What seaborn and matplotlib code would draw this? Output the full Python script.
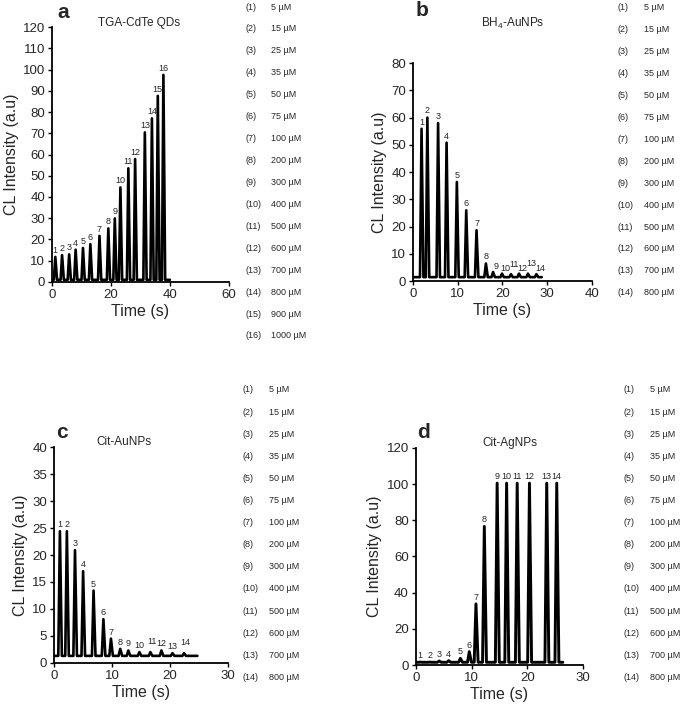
"""Four-panel CL intensity traces (TGA-CdTe QDs, BH4-AuNPs, Cit-AuNPs, Cit-AgNPs)."""

import matplotlib

matplotlib.use("Agg")
import matplotlib.pyplot as plt
import numpy as np
import pandas as pd
import seaborn as sns


# ─── Data ─────────────────────────────────────────────────────────────────

conc_a = ["5", "15", "25", "35", "50", "75", "100", "200", "300", "400",
          "500", "600", "700", "800", "900", "1000"]
conc_bcd = conc_a[:14]

times_a = [1.1, 3.4, 5.8, 8.0, 10.5, 13.0, 16.1, 19.1, 21.3, 23.2,
           25.9, 28.2, 31.5, 33.9, 35.9, 37.8]
heights_a = [11.8, 12.6, 13.0, 15.2, 16.0, 17.8, 21.7, 25.2, 29.9, 44.5,
             53.5, 57.9, 70.4, 77.0, 87.6, 97.5]

times_b = [1.9, 3.2, 5.6, 7.5, 9.8, 11.9, 14.2, 16.3, 17.9, 19.9,
           21.9, 23.7, 25.7, 27.6]
heights_b = [55.9, 60.0, 58.0, 50.8, 36.4, 26.0, 18.7, 6.5, 3.4, 2.8,
             2.6, 2.8, 2.8, 2.6]

times_c = [1.0, 2.2, 3.6, 5.0, 6.8, 8.5, 9.8, 11.4, 12.8, 14.7,
           16.6, 18.5, 20.4, 22.4]
heights_c = [24.4, 24.4, 20.9, 17.0, 13.4, 8.1, 4.5, 2.6, 2.3, 2.0,
             2.0, 2.3, 1.8, 1.8]

times_d = [0.8, 2.5, 4.2, 5.9, 8.0, 9.6, 10.8, 12.3, 14.6, 16.3,
           18.2, 20.4, 23.5, 25.3]
heights_d = [1.6, 1.6, 2.2, 2.4, 3.7, 7.4, 33.8, 76.6, 100.5, 100.5,
             100.5, 100.5, 100.5, 100.5]

panels = [
    dict(letter="a", title="TGA-CdTe QDs", times=times_a, heights=heights_a,
         base=1.0, end=40.0, conc=conc_a, xmax=60, xstep=20, ymax=120, ystep=10),
    dict(letter="b", title=r"BH$_\mathregular{4}$-AuNPs", times=times_b,
         heights=heights_b, base=1.5, end=28.8, conc=conc_bcd,
         xmax=40, xstep=10, ymax=80, ystep=10),
    dict(letter="c", title="Cit-AuNPs", times=times_c, heights=heights_c,
         base=1.3, end=24.7, conc=conc_bcd, xmax=30, xstep=10, ymax=40, ystep=5),
    dict(letter="d", title="Cit-AgNPs", times=times_d, heights=heights_d,
         base=1.5, end=26.4, conc=conc_bcd, xmax=30, xstep=10, ymax=120, ystep=20),
]

# axes rectangles (figure fraction) and text anchors (pixels)
axes_rects = [
    [0.076, 0.604, 0.258, 0.358],
    [0.603, 0.605, 0.261, 0.3065],
    [0.079, 0.069, 0.254, 0.303],
    [0.607, 0.066, 0.244, 0.305],
]
letter_xy = [(57, 13), (416, 11), (56, 433), (417, 432)]
title_xy = [(139, 23), (513, 23), (124, 442), (510, 443)]
legend_xy = [(246, 271, 7, 21.93), (617, 644, 8, 21.9),
             (243, 269, 390, 22.1), (624, 650, 390, 22.1)]
peak_width = [0.5, 0.35, 0.28, 0.32]

# small peak labels that sit staggered in the reference (offset in points)
label_nudge = {
    ("b", 9): (2.5, -1), ("b", 10): (2.5, -1), ("b", 11): (2.5, 2.5),
    ("b", 12): (2.5, -1), ("b", 13): (2.5, 2.5), ("b", 14): (2.5, -1),
    ("c", 11): (1, 3), ("c", 14): (1, 3),
}

W, H = 685, 712


def build_trace(times, heights, base, end, w):
    """Polyline of narrow peaks sitting on a flat baseline."""
    xs, ys = [0.0], [base]
    for t, h in zip(times, heights):
        xs += [t - w, t, t + 1.2 * w]
        ys += [base, h, base]
    xs.append(end)
    ys.append(base)
    return pd.DataFrame({"time": xs, "cl": ys})


sns.set_style("ticks")
plt.rcParams["font.family"] = ["Liberation Sans", "DejaVu Sans"]
plt.rcParams["mathtext.fontset"] = "custom"
plt.rcParams["mathtext.rm"] = "Liberation Sans"

fig = plt.figure(figsize=(W / 100, H / 100), dpi=100)

for i, p in enumerate(panels):
    ax = fig.add_axes(axes_rects[i])
    trace = build_trace(p["times"], p["heights"], p["base"], p["end"], peak_width[i])
    lw = 1.9 if p["letter"] != "d" else 2.1
    sns.lineplot(data=trace, x="time", y="cl", sort=False, estimator=None,
                 color="black", linewidth=lw, ax=ax)

    for n, (t, h) in enumerate(zip(p["times"], p["heights"]), start=1):
        dx, dy = label_nudge.get((p["letter"], n), (0, 0))
        ax.annotate(str(n), (t, h), xytext=(dx, 1.5 + dy), textcoords="offset points",
                    ha="center", va="bottom", fontsize=6.5)

    ax.set_xlim(0, p["xmax"])
    ax.set_ylim(0, p["ymax"])
    ax.set_xticks(np.arange(0, p["xmax"] + 1, p["xstep"]))
    ax.set_yticks(np.arange(0, p["ymax"] + 1, p["ystep"]))
    ax.tick_params(labelsize=9.5, length=3, width=1, color="black", pad=2)
    for s in ("left", "bottom"):
        ax.spines[s].set_linewidth(1.3)
        ax.spines[s].set_color("black")
    sns.despine(ax=ax)
    ax.set_xlabel("Time (s)", fontsize=11.5, labelpad=2)
    ax.set_ylabel("CL Intensity (a.u)", fontsize=11.5, labelpad=3)

    lx, ly = letter_xy[i]
    fig.text(lx / W, 1 - ly / H, p["letter"], fontsize=15, fontweight="bold",
             ha="left", va="center")
    tx, ty = title_xy[i]
    fig.text(tx / W, 1 - ty / H, p["title"], fontsize=8.5, ha="center", va="center")

    nx, vx, y0, dy = legend_xy[i]
    for n, c in enumerate(p["conc"], start=1):
        y = 1 - (y0 + (n - 1) * dy) / H
        fig.text(nx / W, y, f"({n})", fontsize=6.5, ha="left", va="center")
        fig.text(vx / W, y, f"{c} µM", fontsize=6.5, ha="left", va="center")

fig.savefig("out.png", dpi=100)
